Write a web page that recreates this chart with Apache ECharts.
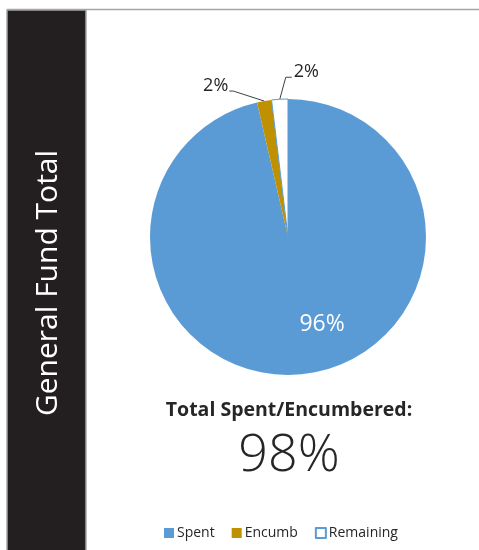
<!DOCTYPE html>
<html>
<head>
<meta charset="utf-8">
<style>
html,body{margin:0;padding:0;background:#fff;}
#c{width:479px;height:550px;}
</style>
<script src="https://cdn.jsdelivr.net/npm/echarts@6/dist/echarts.min.js"></script>
</head>
<body>
<div id="c"></div>
<script>
const categories = ['Spent', 'Encumb', 'Remaining'];
const values = [96.4, 1.7, 1.9];
const colors = ['#5b9bd5', '#bf9000', '#ffffff'];
const sideTitle = 'General Fund Total';
const totalTitle = 'Total Spent/Encumbered:';
const totalValue = Math.round(values[0] + values[1]) + '%';

const chart = echarts.init(document.getElementById('c'), null, {renderer: 'canvas'});
const FONT = '"Open Sans", "DejaVu Sans", sans-serif';

const option = {
  backgroundColor: '#ffffff',
  animation: false,
  textStyle: {fontFamily: FONT},
  graphic: [
    {type: 'line', shape: {x1: 7, y1: 9.5, x2: 479, y2: 9.5}, style: {stroke: '#a6a6a6', lineWidth: 1.5}, z: 1},
    {type: 'rect', shape: {x: 7, y: 10, width: 79, height: 545}, style: {fill: '#231f20', stroke: '#a6a6a6', lineWidth: 1.5}, z: 1},
    {type: 'text', x: 48, y: 283, rotation: Math.PI / 2,
      style: {text: sideTitle, fill: '#ffffff', font: 'normal 30px ' + FONT, align: 'center', verticalAlign: 'middle'}, z: 2},
    {type: 'text', x: 289, y: 410,
      style: {text: totalTitle, fill: '#262626', font: 'bold 19.5px ' + FONT, align: 'center', verticalAlign: 'middle'}, z: 2},
    {type: 'text', x: 289, y: 456,
      style: {text: totalValue, fill: '#262626', font: '300 52px ' + FONT, align: 'center', verticalAlign: 'middle'}, z: 2}
  ],
  legend: {
    data: categories,
    bottom: 5,
    left: 159,
    itemWidth: 10,
    itemHeight: 10,
    itemGap: 17,
    icon: 'rect',
    textStyle: {fontSize: 14, color: '#262626', fontFamily: FONT, padding: [0, 0, 0, -2]}
  },
  series: [{
    type: 'pie',
    center: [288, 237],
    radius: 138,
    startAngle: 90,
    clockwise: true,
    percentPrecision: 0,
    data: categories.map(function (n, i) {
      const item = {name: n, value: values[i], itemStyle: {color: colors[i]}};
      if (i === 2) { item.itemStyle.borderColor = '#5b9bd5'; item.itemStyle.borderWidth = 1; }
      if (i === 0) { item.label = {position: 'inside', color: '#ffffff', fontSize: 23}; }
      return item;
    }),
    label: {
      show: true,
      position: 'outside',
      formatter: '{d}%',
      fontFamily: FONT,
      fontSize: 18,
      color: '#262626'
    },
    labelLine: {show: true, length: 12, length2: 6, lineStyle: {color: '#404040', width: 1}},
    labelLayout: function (p) {
      if (p.dataIndex === 0) return {dx: 26, dy: 16};
      const a = p.labelLinePoints ? p.labelLinePoints[0] : null;
      if (!a) return {};
      if (p.dataIndex === 1) {
        const b = [a[0] - 31, a[1] - 10], c = [b[0] - 4, b[1]];
        return {x: c[0] - 1, y: c[1] - 5, align: 'right', verticalAlign: 'middle', labelLinePoints: [a, b, c]};
      }
      const b = [a[0] + 6, a[1] - 22], c = [b[0] + 6, b[1]];
      return {x: c[0] + 2, y: c[1] - 5, align: 'left', verticalAlign: 'middle', labelLinePoints: [a, b, c]};
    }
  }]
};
chart.setOption(option);
</script>
</body>
</html>
